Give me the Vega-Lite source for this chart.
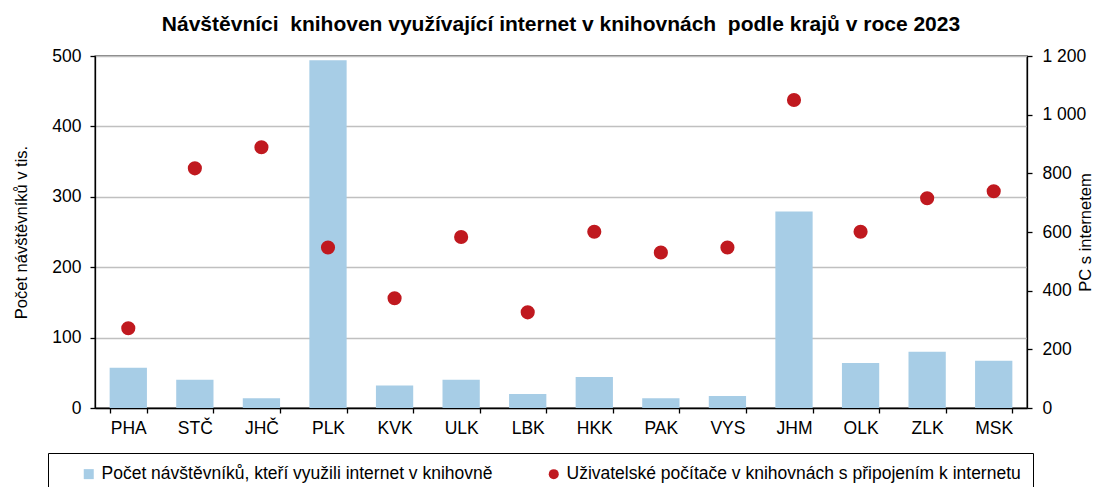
{
  "$schema": "https://vega.github.io/schema/vega-lite/v6.json",
  "width": 932,
  "height": 352,
  "autosize": {"type": "none"},
  "padding": {"left": 95, "top": 56, "right": 83, "bottom": 79},
  "background": "white",
  "config": {
    "font": "Liberation Sans",
    "view": {"stroke": "black", "strokeWidth": 1.3},
    "axis": {
      "labelFont": "Liberation Sans",
      "titleFont": "Liberation Sans",
      "labelColor": "black",
      "titleColor": "black",
      "domainColor": "black",
      "tickColor": "black",
      "domainWidth": 1.3,
      "tickWidth": 1.3,
      "tickSize": 5,
      "labelFontSize": 17.5,
      "titleFontSize": 16.5,
      "titleFontWeight": "normal"
    }
  },
  "title": {
    "text": "Návštěvníci \u00a0knihoven využívající internet v knihovnách \u00a0podle krajů v roce 2023",
    "fontSize": 21,
    "fontWeight": "bold",
    "font": "Liberation Sans",
    "color": "black",
    "anchor": "middle",
    "offset": 12
  },
  "data": {
    "values": [
      {"kraj": "PHA", "serie": "A", "hodnota": 57},
      {"kraj": "STČ", "serie": "A", "hodnota": 40},
      {"kraj": "JHČ", "serie": "A", "hodnota": 14},
      {"kraj": "PLK", "serie": "A", "hodnota": 494},
      {"kraj": "KVK", "serie": "A", "hodnota": 32},
      {"kraj": "ULK", "serie": "A", "hodnota": 40},
      {"kraj": "LBK", "serie": "A", "hodnota": 20},
      {"kraj": "HKK", "serie": "A", "hodnota": 44},
      {"kraj": "PAK", "serie": "A", "hodnota": 14},
      {"kraj": "VYS", "serie": "A", "hodnota": 17},
      {"kraj": "JHM", "serie": "A", "hodnota": 279},
      {"kraj": "OLK", "serie": "A", "hodnota": 64},
      {"kraj": "ZLK", "serie": "A", "hodnota": 80},
      {"kraj": "MSK", "serie": "A", "hodnota": 67},
      {"kraj": "PHA", "serie": "B", "hodnota": 272},
      {"kraj": "STČ", "serie": "B", "hodnota": 817},
      {"kraj": "JHČ", "serie": "B", "hodnota": 889},
      {"kraj": "PLK", "serie": "B", "hodnota": 547},
      {"kraj": "KVK", "serie": "B", "hodnota": 374},
      {"kraj": "ULK", "serie": "B", "hodnota": 583},
      {"kraj": "LBK", "serie": "B", "hodnota": 326},
      {"kraj": "HKK", "serie": "B", "hodnota": 601},
      {"kraj": "PAK", "serie": "B", "hodnota": 530},
      {"kraj": "VYS", "serie": "B", "hodnota": 547},
      {"kraj": "JHM", "serie": "B", "hodnota": 1050},
      {"kraj": "OLK", "serie": "B", "hodnota": 601},
      {"kraj": "ZLK", "serie": "B", "hodnota": 715},
      {"kraj": "MSK", "serie": "B", "hodnota": 739}
    ]
  },
  "encoding": {
    "x": {
      "field": "kraj",
      "type": "nominal",
      "sort": null,
      "scale": {"paddingInner": 0.44, "paddingOuter": 0.22},
      "axis": {"title": null, "labelAngle": 0, "tickBand": "extent", "labelPadding": 6, "grid": false}
    }
  },
  "layer": [
    {
      "transform": [{"filter": "datum.serie === 'A'"}],
      "mark": {"type": "bar", "color": "#A7CDE6"},
      "encoding": {
        "y": {
          "field": "hodnota",
          "type": "quantitative",
          "scale": {"domain": [0, 500], "nice": false},
          "axis": {
            "title": "Počet návštěvníků v tis.",
            "values": [0, 100, 200, 300, 400, 500],
            "grid": true,
            "gridColor": "#C0C0C0",
            "gridWidth": 1.3,
            "labelPadding": 9,
            "titlePadding": 22
          }
        }
      }
    },
    {
      "transform": [{"filter": "datum.serie === 'B'"}],
      "mark": {"type": "point", "filled": true, "opacity": 1, "size": 200},
      "encoding": {
        "y": {
          "field": "hodnota",
          "type": "quantitative",
          "scale": {"domain": [0, 1200], "nice": false},
          "axis": {
            "orient": "right",
            "title": "PC s internetem",
            "titleAngle": -90,
            "values": [0, 200, 400, 600, 800, 1000, 1200],
            "labelExpr": "replace(format(datum.value, ','), ',', ' ')",
            "grid": false,
            "labelPadding": 10,
            "titlePadding": 8
          }
        },
        "color": {
          "field": "serie",
          "type": "nominal",
          "scale": {"domain": ["A", "B"], "range": ["#A7CDE6", "#C0191F"]},
          "legend": {
            "orient": "none",
            "legendX": -47,
            "legendY": 397,
            "direction": "horizontal",
            "columns": 2,
            "title": "\u00a0",
            "titleOrient": "left",
            "titlePadding": 20,
            "labelExpr": "datum.value === 'A' ? 'Počet návštěvníků, kteří využili internet v knihovně' : 'Uživatelské počítače v knihovnách s připojením k internetu'",
            "labelFontSize": 17.5,
            "labelFont": "Liberation Sans",
            "labelColor": "black",
            "labelLimit": 0,
            "labelOffset": 4,
            "symbolSize": 100,
            "columnPadding": 52,
            "strokeColor": "black",
            "fillColor": "white",
            "padding": 12
          }
        },
        "shape": {
          "field": "serie",
          "type": "nominal",
          "scale": {"domain": ["A", "B"], "range": ["square", "circle"]},
          "legend": {
            "orient": "none",
            "legendX": -47,
            "legendY": 397,
            "direction": "horizontal",
            "columns": 2,
            "title": "\u00a0",
            "titleOrient": "left",
            "titlePadding": 20,
            "labelExpr": "datum.value === 'A' ? 'Počet návštěvníků, kteří využili internet v knihovně' : 'Uživatelské počítače v knihovnách s připojením k internetu'",
            "labelFontSize": 17.5,
            "labelFont": "Liberation Sans",
            "labelColor": "black",
            "labelLimit": 0,
            "labelOffset": 4,
            "symbolSize": 100,
            "columnPadding": 52,
            "strokeColor": "black",
            "fillColor": "white",
            "padding": 12
          }
        }
      }
    }
  ],
  "resolve": {"scale": {"y": "independent"}}
}
